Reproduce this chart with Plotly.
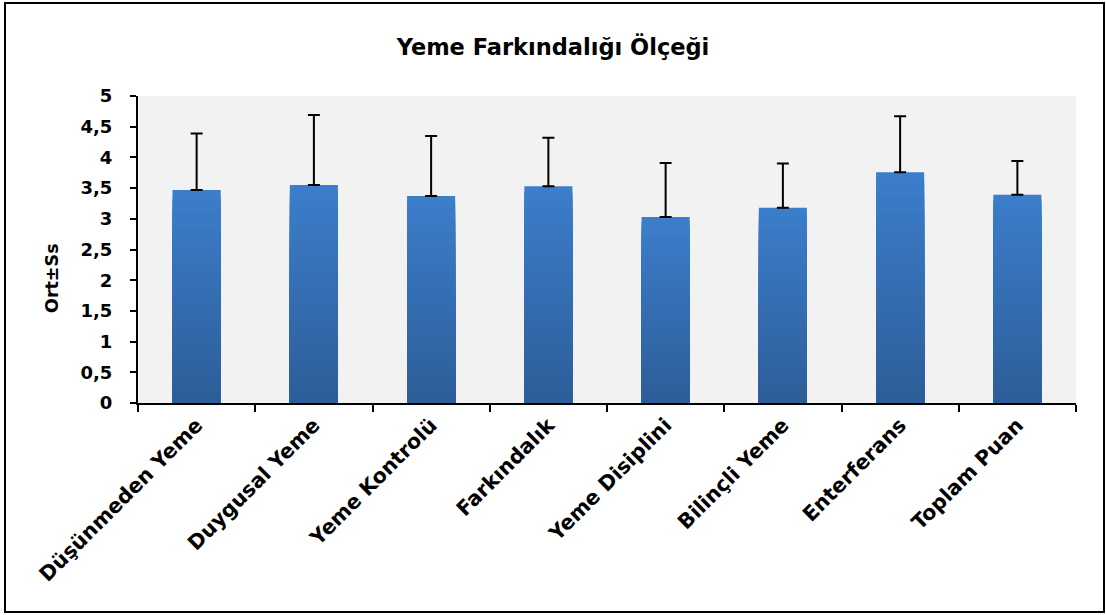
import plotly.graph_objects as go

categories = ["Düşünmeden Yeme", "Duygusal Yeme", "Yeme Kontrolü", "Farkındalık",
              "Yeme Disiplini", "Bilinçli Yeme", "Enterferans", "Toplam Puan"]
means = [3.47, 3.55, 3.37, 3.53, 3.03, 3.18, 3.76, 3.39]
sds = [0.92, 1.14, 0.98, 0.79, 0.88, 0.72, 0.91, 0.55]
y_ticks = [0, 0.5, 1, 1.5, 2, 2.5, 3, 3.5, 4, 4.5, 5]
y_tick_labels = ["0", "0,5", "1", "1,5", "2", "2,5", "3", "3,5", "4", "4,5", "5"]

FONT = "DejaVu Sans"
top_rgb = (60, 126, 203)
bot_rgb = (45, 93, 152)
N = 40

fig = go.Figure()
for k in range(N):
    frac = (N - k) / N
    t = (N - k - 0.5) / N
    c = tuple(int(round(bot_rgb[i] + (top_rgb[i] - bot_rgb[i]) * t)) for i in range(3))
    tr = dict(
        x=categories,
        y=[m * frac for m in means],
        marker=dict(color="rgb(%d,%d,%d)" % c, line=dict(width=0)),
        showlegend=False,
        hoverinfo="skip",
    )
    if k == 0:
        tr["error_y"] = dict(type="data", array=sds, symmetric=False, arrayminus=[0] * len(sds),
                             color="black", thickness=2, width=6)
    fig.add_trace(go.Bar(**tr))

fig.update_layout(
    width=1106, height=615,
    barmode="overlay",
    bargap=0.59,
    plot_bgcolor="#F2F2F2",
    paper_bgcolor="white",
    margin=dict(l=138, r=30, t=96, b=212),
    font=dict(family=FONT, color="black"),
    title=dict(text="<b>Yeme Farkındalığı Ölçeği</b>", x=0.5, xanchor="center",
               y=1 - 47 / 615, yanchor="middle", font=dict(size=22.5, family=FONT)),
)
fig.update_xaxes(
    showline=True, linecolor="black", linewidth=2,
    ticks="outside", ticklen=7, tickwidth=2, tickcolor="black",
    tickson="boundaries", tickangle=-45,
    tickfont=dict(size=20.5, family=FONT, color="black"),
    tickvals=categories, ticktext=["<b>%s</b>" % c for c in categories],
    showgrid=False,
)
fig.update_yaxes(
    range=[0, 5], showline=True, linecolor="black", linewidth=2,
    ticks="outside", ticklen=6, tickwidth=2, tickcolor="black",
    tickvals=y_ticks, ticktext=["<b>%s</b>" % s for s in y_tick_labels],
    tickfont=dict(size=18, family=FONT, color="black"),
    ticklabelstandoff=14,
    showgrid=False, zeroline=False,
)
fig.add_annotation(
    text="<b>Ort±Ss</b>", xref="paper", yref="paper",
    x=(52 - 138) / 938, y=(403 - 278) / 307, textangle=-90,
    showarrow=False, font=dict(size=17.5, family=FONT, color="black"),
    xanchor="center", yanchor="middle",
)
fig.add_shape(
    type="rect", xref="paper", yref="paper",
    x0=(5 - 138) / 938, x1=(1104 - 138) / 938,
    y0=(403 - 612) / 307, y1=(403 - 3) / 307,
    line=dict(color="black", width=2), fillcolor="rgba(0,0,0,0)", layer="below",
)
fig.write_html("out.html", config={"displayModeBar": False},
               post_script="document.body.style.margin='0';document.body.style.overflow='hidden';")
